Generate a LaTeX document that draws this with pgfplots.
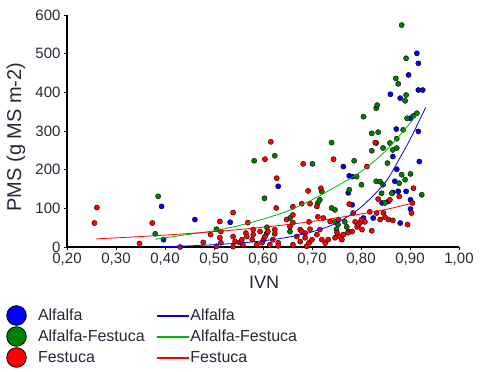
\documentclass[border=0pt]{standalone}
\usepackage{pgfplots}
\pgfplotsset{compat=1.18}
\usepackage{fontspec}
\setmainfont{Liberation Sans}
\definecolor{txt}{RGB}{40,40,56}
\definecolor{mblue}{RGB}{0,0,255}
\definecolor{mgreen}{RGB}{0,128,0}
\definecolor{mred}{RGB}{255,0,0}
\definecolor{lgreen}{RGB}{0,180,0}
\pgfplotsset{
  pt/.style={only marks, mark=*, mark size=2.6bp, mark options={draw=black, line width=0.9bp}, forget plot},
  circimg/.style={legend image code/.code={\path[draw=none,fill=none] (0bp,-10.5bp) rectangle (21bp,10.5bp);
     \filldraw[fill=#1,draw=black,line width=0.8bp] (10.5bp,0bp) circle (9.8bp);}},
  lineimg/.style={legend image code/.code={\path[draw=none,fill=none] (0bp,-10.5bp) rectangle (31bp,10.5bp);
     \fill[#1] (0bp,-0.6bp) rectangle (31bp,0.6bp);}},
}
\begin{document}
\begin{tikzpicture}
\useasboundingbox (0,0) rectangle (480bp,372bp);
\begin{axis}[
  at={(67bp,125bp)}, anchor=south west,
  scale only axis, width=392bp, height=232bp,
  xmin=0.2, xmax=1.0, ymin=0, ymax=600,
  axis lines=left, axis line style={-, line width=1.4bp, black},
  xtick={0.2,0.3,0.4,0.5,0.6,0.7,0.8,0.9,1.0},
  ytick={0,100,200,300,400,500,600},
  tick align=outside, major tick length=3bp,
  tick style={black, line width=1bp},
  /pgf/number format/assume math mode=true,
  xticklabel style={/pgf/number format/fixed, /pgf/number format/fixed zerofill,
     /pgf/number format/precision=2, /pgf/number format/use comma,
     font=\fontsize{15bp}{15bp}\selectfont, text=txt},
  yticklabel style={font=\fontsize{15bp}{15bp}\selectfont, text=txt},
  ylabel={PMS (g MS m-2)},
  ylabel style={at={(axis description cs:-0.130,0.474)}, anchor=center,
     font=\fontsize{20bp}{20bp}\selectfont, text=txt},
  xlabel={IVN},
  xlabel style={at={(axis description cs:0.5026,-0.152)}, anchor=center,
     font=\fontsize{18bp}{18bp}\selectfont, text=txt},
  clip=false,
  legend style={at={(axis description cs:-0.1556,-0.25)}, anchor=north west,
     draw=none, fill=none, inner sep=0pt, outer sep=0pt, row sep=0pt,
     font=\fontsize{16bp}{16bp}\selectfont, text=txt,
     /tikz/every odd column/.append style={column sep=9bp},
     cells={anchor=west}},
]
\addlegendimage{circimg=mblue}
\addlegendentry{Alfalfa}
\addlegendimage{circimg=mgreen}
\addlegendentry{Alfalfa-Festuca}
\addlegendimage{circimg=mred}
\addlegendentry{Festuca}

% Alfalfa
\addplot[pt, mark options={fill=mblue}] coordinates {
(0.393,105) (0.397,19) (0.461,71) (0.533,64) (0.608,36) (0.631,157) (0.764,208)
(0.776,184) (0.782,182) (0.774,140) (0.782,109) (0.805,75) (0.825,75) (0.843,114)
(0.856,118) (0.860,395) (0.865,234) (0.865,141) (0.869,170) (0.873,201) (0.872,305)
(0.876,144) (0.880,385) (0.880,62) (0.892,144) (0.897,445) (0.901,333) (0.901,122)
(0.901,98) (0.914,501) (0.917,475) (0.917,299) (0.919,221) (0.917,406) (0.926,406)
};
% Alfalfa-Festuca
\addplot[pt, mark options={fill=mgreen}] coordinates {
(0.380,34) (0.386,131) (0.505,46) (0.582,223) (0.603,126) (0.608,51) (0.624,236)
(0.655,75) (0.655,40) (0.701,215) (0.712,114) (0.716,122) (0.720,143) (0.740,270)
(0.740,101) (0.747,96) (0.747,65) (0.750,46) (0.753,58) (0.767,65) (0.771,52)
(0.774,40) (0.776,148) (0.786,223) (0.791,182) (0.801,161) (0.805,337) (0.822,294)
(0.822,249) (0.831,359) (0.833,367) (0.831,170) (0.835,297) (0.831,269) (0.839,169)
(0.845,161) (0.842,139) (0.845,256) (0.849,114) (0.854,217) (0.859,269) (0.863,139)
(0.865,251) (0.873,280) (0.873,256) (0.871,436) (0.876,422) (0.878,165) (0.883,574)
(0.883,187) (0.886,303) (0.890,174) (0.890,378) (0.892,393) (0.892,488) (0.894,333)
(0.901,189) (0.907,339) (0.914,346) (0.924,135)
};
% Festuca
\addplot[pt, mark options={fill=mred}] coordinates {
(0.256,62) (0.261,102) (0.348,9) (0.374,62) (0.431,0) (0.478,12) (0.493,32) (0.505,2)
(0.512,66) (0.512,24) (0.514,40) (0.514,11) (0.539,89) (0.539,27) (0.543,14) (0.539,1)
(0.552,12) (0.557,19) (0.559,6) (0.565,36) (0.567,27) (0.569,63) (0.578,19) (0.580,32)
(0.580,45) (0.587,6) (0.594,40) (0.598,11) (0.601,19) (0.604,27) (0.604,227) (0.610,40)
(0.614,6) (0.616,272) (0.620,19) (0.624,34) (0.624,45) (0.628,178) (0.627,101) (0.631,11)
(0.631,3) (0.648,71) (0.655,53) (0.661,104) (0.661,83) (0.661,63) (0.661,6) (0.669,27)
(0.676,14) (0.676,45) (0.679,112) (0.679,40) (0.682,215) (0.686,24) (0.686,36) (0.689,2)
(0.694,11) (0.692,145) (0.694,65) (0.696,46) (0.700,19) (0.696,112) (0.710,32) (0.712,78)
(0.710,105) (0.716,45) (0.718,152) (0.720,19) (0.723,75) (0.727,10) (0.733,19) (0.737,66)
(0.744,227) (0.747,24) (0.751,37) (0.754,71) (0.757,27) (0.761,19) (0.764,32) (0.774,37)
(0.776,111) (0.782,40) (0.784,88) (0.788,65) (0.792,52) (0.795,58) (0.798,63) (0.802,45)
(0.801,71) (0.808,65) (0.812,208) (0.818,91) (0.822,42) (0.829,270) (0.832,88) (0.835,124)
(0.839,71) (0.846,88) (0.849,77) (0.856,71) (0.859,122) (0.865,69) (0.878,131) (0.895,58)
(0.903,88) (0.905,114) (0.907,152)
};
\end{axis}
\begin{axis}[
  at={(67bp,125bp)}, anchor=south west,
  scale only axis, width=392bp, height=232bp,
  xmin=0.2, xmax=1.0, ymin=0, ymax=600,
  hide axis, clip=false,
  legend style={at={(axis description cs:0.2296,-0.25)}, anchor=north west,
     draw=none, fill=none, inner sep=0pt, outer sep=0pt, row sep=0pt,
     font=\fontsize{16bp}{16bp}\selectfont, text=txt,
     /tikz/every odd column/.append style={column sep=0bp},
     cells={anchor=west}},
]
\addlegendimage{lineimg=mblue}
\addlegendentry{Alfalfa}
\addlegendimage{lineimg=lgreen}
\addlegendentry{Alfalfa-Festuca}
\addlegendimage{lineimg=mred}
\addlegendentry{Festuca}
\addplot[mblue, line width=0.8bp, smooth, forget plot] coordinates {
(0.39,0) (0.45,3) (0.50,6) (0.55,10) (0.60,16) (0.65,25) (0.70,39) (0.75,62)
(0.80,103) (0.85,168) (0.88,232) (0.90,278) (0.932,361)
};
\addplot[lgreen, line width=0.8bp, smooth, forget plot] coordinates {
(0.38,20) (0.45,33) (0.50,42) (0.55,55) (0.60,72) (0.65,93) (0.70,122) (0.75,157)
(0.80,195) (0.85,248) (0.90,320) (0.915,347)
};
\addplot[mred, line width=0.8bp, smooth, forget plot] coordinates {
(0.26,21) (0.35,27) (0.45,35) (0.55,45) (0.65,58) (0.75,75) (0.85,97) (0.906,114)
};
\end{axis}
\end{tikzpicture}
\end{document}
